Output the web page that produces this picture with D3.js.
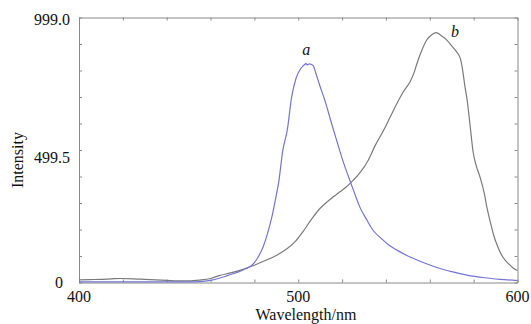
<!DOCTYPE html>
<html>
<head>
<meta charset="utf-8">
<script src="https://cdn.jsdelivr.net/npm/d3@7"></script>
<style>
  body { margin: 0; background: #fff; }
</style>
</head>
<body>
<div id="chart"></div>
<script>
// curve a (blue)
var wlA = [400, 420, 440, 450, 455, 460, 464, 468, 471, 473, 476, 479, 482, 484, 486, 488, 490, 491, 493, 495, 497, 499, 501, 502, 503, 503.5, 504, 505, 506, 507, 508, 510, 512, 513, 515, 517, 519, 520, 522, 524, 526, 528, 531, 534, 538, 541, 545, 550, 555, 560, 565, 570, 577, 585, 592, 600];
var intA = [2, 2, 2, 2, 3, 8, 16, 27, 35, 41, 52, 66, 100, 135, 185, 248, 330, 374, 500, 575, 700, 770, 805, 815, 822, 826, 820, 824, 822, 815, 790, 738, 690, 663, 605, 550, 495, 468, 420, 374, 330, 286, 240, 198, 165, 143, 122, 100, 82, 66, 52, 41, 28, 18, 12, 7];
// curve b (gray)
var wlB = [400, 405, 410, 415, 419, 425, 430, 435, 440, 445, 450, 455, 460, 464, 469, 473, 479, 485, 490, 495, 499, 502, 506, 510, 513, 516, 519, 522, 525, 528, 532, 535, 539, 542, 545, 548, 551, 553, 554, 556, 558.6, 561, 563, 565, 568, 570, 572, 574, 575, 576, 577, 578.4, 579.8, 581, 583, 585, 586, 588, 589, 591, 593, 596, 598, 600];
var intB = [10, 11, 12, 14, 15, 14, 12, 10, 8, 6, 6, 9, 15, 26, 36, 45, 62, 83, 102, 128, 158, 190, 238, 280, 303, 323, 342, 361, 385, 412, 462, 515, 575, 625, 675, 720, 757, 795, 822, 868, 914, 935, 942, 932, 912, 892, 872, 842, 800, 740, 690, 590, 490, 445, 395, 330, 285, 215, 182, 135, 100, 70, 55, 45];

var xLabels = ["400", "500", "600"];
var yLabels = ["0", "499.5", "999.0"];

var FONT = "'Liberation Serif', 'Times New Roman', serif";

var W = 531, H = 324;
var margin = {top: 17.5, right: 13.5, bottom: 41.5, left: 79};
var width = W - margin.left - margin.right,
    height = H - margin.top - margin.bottom;

var svg = d3.select("#chart").append("svg")
    .attr("width", W).attr("height", H);
var g = svg.append("g")
    .attr("transform", "translate(" + margin.left + "," + margin.top + ")");

var x = d3.scaleLinear().domain([400, 600]).range([0, width]);
var y = d3.scaleLinear().domain([0, 999]).range([height, 0]);

var xt = d3.range(400, 601, 20);
var yt = d3.range(0, 11).map(function(i) { return i * 99.9; });

function styleAxis(sel) {
  sel.selectAll("path, line").attr("stroke", "#8a8a8a").attr("stroke-width", 1);
  sel.selectAll("text").remove();
}

g.append("g").attr("transform", "translate(0," + height + ")")
  .call(d3.axisBottom(x).tickValues(xt).tickSizeInner(-3).tickSizeOuter(0)).call(styleAxis);
g.append("g")
  .call(d3.axisTop(x).tickValues(xt).tickSizeInner(-3).tickSizeOuter(0)).call(styleAxis);
g.append("g")
  .call(d3.axisLeft(y).tickValues(yt).tickSizeInner(-3).tickSizeOuter(0)).call(styleAxis);
g.append("g").attr("transform", "translate(" + width + ",0)")
  .call(d3.axisRight(y).tickValues(yt).tickSizeInner(-3).tickSizeOuter(0)).call(styleAxis);

var line = d3.line().curve(d3.curveMonotoneX)
  .x(function(d) { return x(d[0]); })
  .y(function(d) { return y(d[1]); });

g.append("path").datum(d3.zip(wlB, intB))
  .attr("d", line).attr("fill", "none")
  .attr("stroke", "#7a7a7a").attr("stroke-width", 1.2);
g.append("path").datum(d3.zip(wlA, intA))
  .attr("d", line).attr("fill", "none")
  .attr("stroke", "#7474d2").attr("stroke-width", 1.2);

function txt(sel, size) {
  return sel.style("font-family", FONT).style("font-size", size || "16px").style("fill", "#111");
}

// tick labels
g.selectAll(".xl").data(xLabels).enter().append("text")
  .attr("x", function(d) { return x(+d); })
  .attr("y", height + 19.5)
  .attr("text-anchor", "middle")
  .call(txt)
  .text(function(d) { return d; });

var yOff = {"0": [-16, 5.5], "499.5": [-9, 13], "999.0": [-9, 7]};
g.selectAll(".yl").data(yLabels).enter().append("text")
  .attr("x", function(d) { return yOff[d][0]; })
  .attr("y", function(d) { return y(+d) + yOff[d][1]; })
  .attr("text-anchor", "end")
  .call(txt)
  .text(function(d) { return d; });

// axis titles
svg.append("text")
  .attr("x", 306).attr("y", 320)
  .attr("text-anchor", "middle")
  .call(txt)
  .text("Wavelength/nm");
svg.append("text")
  .attr("transform", "translate(23,160) rotate(-90)")
  .attr("text-anchor", "middle")
  .call(txt)
  .text("Intensity");

// curve labels
g.append("text")
  .attr("x", x(503.6)).attr("y", y(826) - 8)
  .attr("text-anchor", "middle")
  .call(txt).style("font-style", "italic")
  .text("a");
g.append("text")
  .attr("x", x(571.5)).attr("y", y(942) + 4)
  .attr("text-anchor", "middle")
  .call(txt).style("font-style", "italic")
  .text("b");
</script>
</body>
</html>
